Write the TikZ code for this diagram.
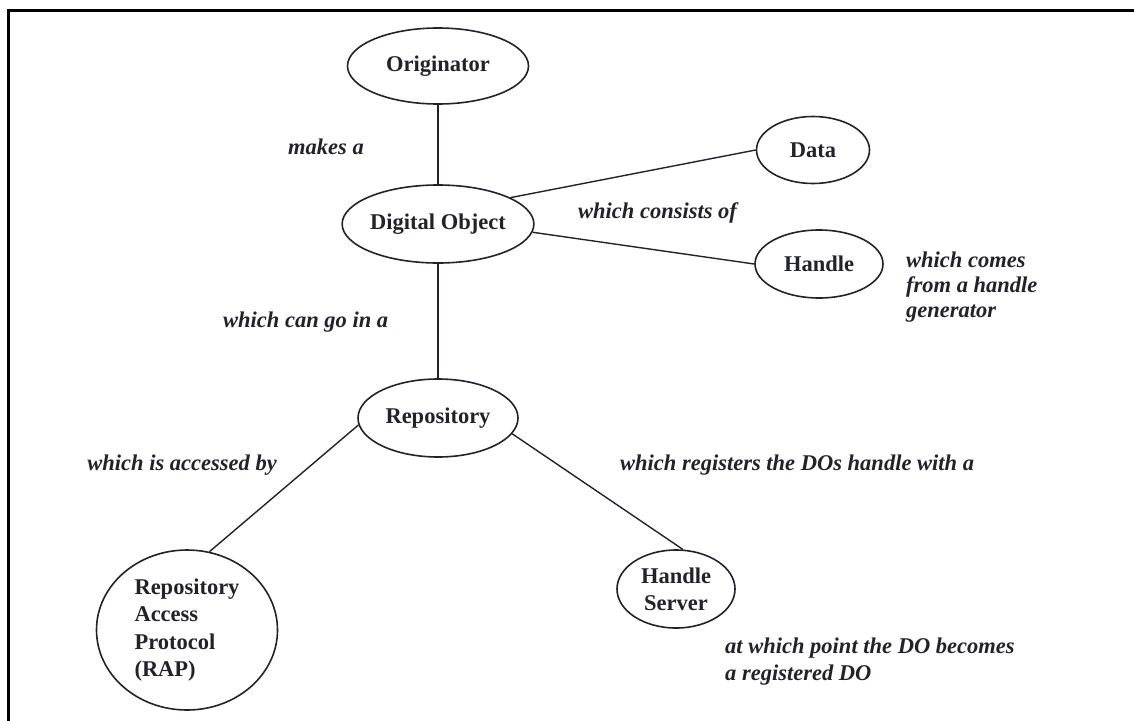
\documentclass[tikz,border=0pt]{standalone}
\usepackage{fontspec}
\setmainfont{Liberation Serif}
\usetikzlibrary{shapes.geometric}
\definecolor{ink}{RGB}{34,34,46}
\begin{document}
\begin{tikzpicture}[x=1pt,y=-1pt,
  concept/.style={ellipse,draw=ink,line width=1.6pt,inner sep=0pt,
    text=ink,font=\bfseries\fontsize{22.5}{27.5}\selectfont},
  relation/.style={text=ink,inner sep=0pt,
    font=\bfseries\itshape\fontsize{22.5}{25}\selectfont},
  link/.style={draw=ink,line width=1.4pt}]
\useasboundingbox (0,0) rectangle (1134,720);
% frame
\draw[line width=3pt,black] (8,730) -- (8,10) -- (1140,10);

% concepts
\node[concept,minimum width=181pt,minimum height=76pt] (orig) at (438,66) {Originator};
\node[concept,minimum width=181pt,minimum height=78pt] (do) at (438,224) {Digital Object};
\node[concept,minimum width=113pt,minimum height=67pt] (data) at (813,150) {Data};
\node[concept,minimum width=128pt,minimum height=68pt] (handle) at (819,264) {Handle};
\node[concept,minimum width=160pt,minimum height=78pt] (rep) at (438,418) {Repository};
\node[concept,minimum width=181pt,minimum height=160pt,align=left] (rap) at (187,630)
  {Repository\\Access\\Protocol\\(RAP)};
\node[concept,minimum width=118pt,minimum height=78pt,align=center,
  font=\bfseries\fontsize{22.5}{27}\selectfont] (hs) at (676,589) {Handle\\Server};

% connectors
\draw[link] (orig) -- (do);
\draw[link] (do.20) -- (data.180);
\draw[link] (do.-5) -- (handle.180);
\draw[link] (do) -- (rep);
\draw[link] (rep.185) -- (rap.74);
\draw[link] (rep.-12) -- (hs.80);

% relation labels
\node[relation,anchor=west] (l1) at (288,147) {makes a};
\node[relation,anchor=west] (l2) at (578,213) {which consists of};
\node[relation,anchor=west,align=left] (l3) at (906,287) {which comes\\from a handle\\generator};
\node[relation,anchor=west] (l4) at (223,322) {which can go in a};
\node[relation,anchor=east] (l5) at (277,465) {which is accessed by};
\node[relation,anchor=west] (l6) at (620,465) {which registers the DOs handle with a};
\node[relation,anchor=west,align=left,
  font=\bfseries\itshape\fontsize{22.5}{27}\selectfont] (l7) at (725,661.5)
  {at which point the DO becomes\\a registered DO};
\end{tikzpicture}
\end{document}
